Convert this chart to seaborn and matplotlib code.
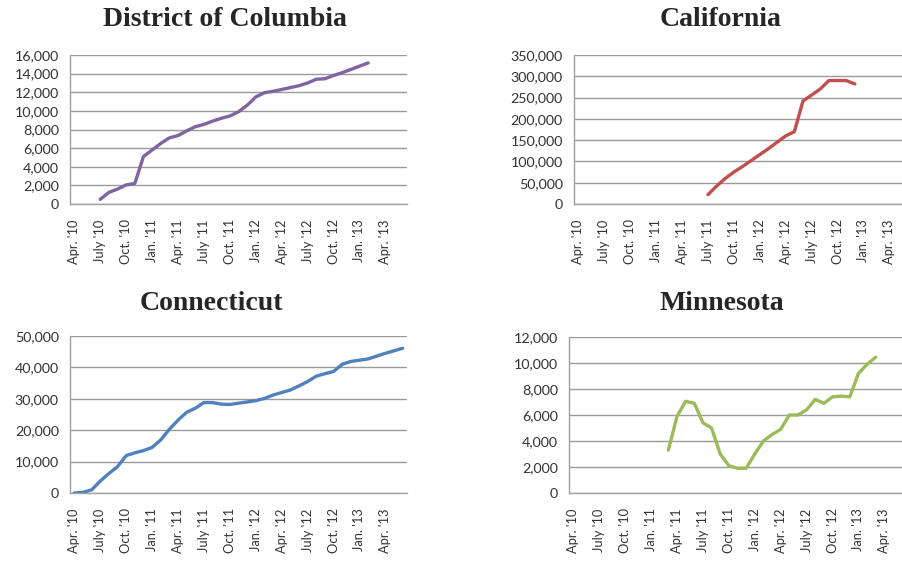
import numpy as np
import pandas as pd
import matplotlib
matplotlib.use("Agg")
import matplotlib.pyplot as plt
import matplotlib.ticker as mticker
import seaborn as sns

# -------------------------------
# DATA (monthly, Apr 2010 .. June 2013)
# -------------------------------
months = pd.period_range("2010-04", "2013-06", freq="M")
label_map = {1: "Jan.", 4: "Apr.", 7: "July", 10: "Oct."}
tick_labels = [label_map[m.month] + " '" + str(m.year)[2:] for m in months if m.month in label_map]

dc_start = "2010-07"
dc_values = [500, 1250, 1600, 2050, 2200, 5100, 5800, 6500, 7100, 7350,
             7850, 8300, 8550, 8900, 9200, 9450, 9900, 10600, 11500, 11950,
             12100, 12300, 12500, 12700, 13000, 13400, 13450, 13800, 14100, 14450,
             14800, 15150]

ca_start = "2011-07"
ca_values = [22000, 42000, 60000, 75000, 88000, 102000, 116000, 130000, 145000, 160000,
             170000, 242000, 256000, 270000, 290000, 290000, 290000, 282000]

ct_start = "2010-04"
ct_values = [0, 200, 1000, 3800, 6200, 8400, 11900, 12800, 13500, 14500,
             16900, 20300, 23200, 25700, 27000, 28800, 28800, 28300, 28200, 28600,
             29000, 29400, 30100, 31200, 32000, 32800, 34100, 35500, 37200, 38000,
             38700, 41000, 41900, 42300, 42700, 43600, 44500, 45300, 46100]

mn_start = "2011-03"
mn_values = [3300, 5900, 7050, 6900, 5400, 5000, 3000, 2100, 1900, 1900,
             3000, 4000, 4500, 4900, 6000, 6000, 6400, 7200, 6900, 7400,
             7450, 7400, 9200, 9900, 10450]

panels = [
    ("District of Columbia", dc_start, dc_values, "#8064A2", 16000, 2000),
    ("California", ca_start, ca_values, "#C0504D", 350000, 50000),
    ("Connecticut", ct_start, ct_values, "#4F81BD", 50000, 10000),
    ("Minnesota", mn_start, mn_values, "#9BBB59", 12000, 2000),
]

# axes boxes in pixels: left, top, right, bottom
boxes = [(70, 55, 407, 204), (574, 55, 911, 204),
         (70, 336, 407, 493), (569, 337, 906, 493)]
title_pos = [(225, 20), (721, 20), (211, 303), (722, 303)]

sns.set_style("white")
plt.rcParams["font.family"] = ["Lato", "DejaVu Sans"]

W, H = 902, 561
fig = plt.figure(figsize=(W / 100, H / 100), dpi=100)

for (title, start, values, color, ymax, ystep), box, tp in zip(panels, boxes, title_pos):
    l, t, r, b = box
    ax = fig.add_axes([l / W, 1 - b / H, (r - l) / W, (b - t) / H])
    i0 = months.get_loc(pd.Period(start, freq="M"))
    df = pd.DataFrame({"month": np.arange(i0, i0 + len(values)), "value": values})
    sns.lineplot(data=df, x="month", y="value", ax=ax, color=color, linewidth=2.4)

    ax.set_xlim(-0.5, len(months) - 0.5)
    ax.set_ylim(0, ymax)
    ax.set_xticks([i for i, m in enumerate(months) if m.month in label_map])
    ax.set_xticklabels(tick_labels, rotation=90, fontsize=9.3, color="#333333")
    ax.set_xticks(np.arange(-0.5, len(months), 1), minor=True)
    ax.tick_params(axis="x", which="major", length=0, pad=11)
    ax.tick_params(axis="x", which="minor", length=4, width=0.8, color="#999999")
    ax.set_yticks(np.arange(0, ymax + 1, ystep))
    ax.yaxis.set_major_formatter(mticker.FuncFormatter(lambda v, p: f"{int(v):,}"))
    ax.tick_params(axis="y", length=3, width=0.8, color="#999999", labelsize=10.3,
                   labelcolor="#333333", pad=5)
    ax.grid(axis="y", color="#9a9a9a", linewidth=1.0)
    ax.set_axisbelow(True)
    for s in ["top", "right"]:
        ax.spines[s].set_visible(False)
    for s in ["left", "bottom"]:
        ax.spines[s].set_color("#a0a0a0")
        ax.spines[s].set_linewidth(1.0)
    ax.set_xlabel("")
    ax.set_ylabel("")

    fig.text(tp[0] / W, 1 - tp[1] / H, title, ha="center", va="center",
             fontsize=20, fontweight="bold", family="Liberation Serif")

fig.savefig("out.png", dpi=100)
